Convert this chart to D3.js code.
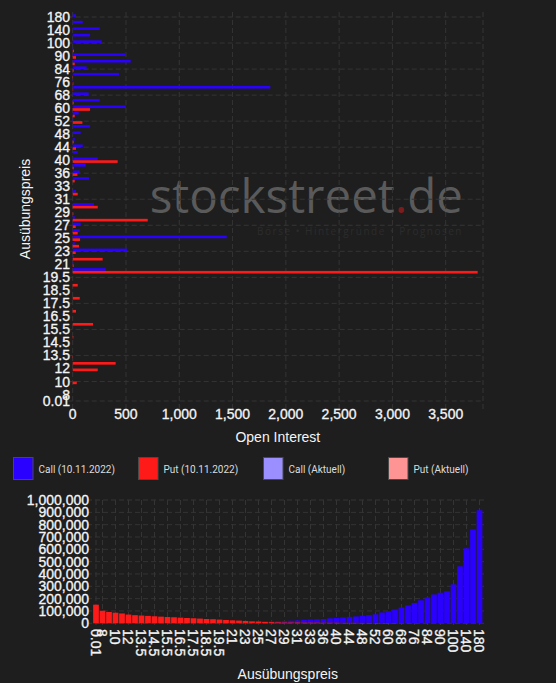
<!DOCTYPE html>
<html>
<head>
<meta charset="utf-8">
<script src="https://cdn.jsdelivr.net/npm/d3@7"></script>
<style>
  html, body { margin: 0; padding: 0; background: #1e1e1e; }
  svg { display: block; }
</style>
</head>
<body>
<script>
// Ausübungspreise, von unten (0.01) nach oben (180)
const strikes = ["0.01","8","9","10","11","12","13","13.5","14","14.5","15","15.5","16","16.5","17","17.5",
  "18","18.5","19","19.5","20","21","22","23","24","25","26","27","28","29","30","31","32","33","34","36",
  "38","40","42","44","46","48","50","52","56","60","64","68","72","76","80","84","88","90","95","100",
  "120","140","160","180"];

// Open Interest je Strike (10.11.2022)
const callOI = [0,0,0,0,0,0,0,0,0,0,0,0,0,0,0,0,
  0,0,0,0,310,9,12,510,19,1445,66,75,19,0,200,0,31,0,153,66,
  122,235,47,94,19,75,163,5,56,500,253,150,1854,3,435,131,544,491,5,272,
  163,253,94,31];
const putOI = [0,0,0,38,0,235,403,3,0,0,6,0,191,0,31,0,
  66,0,47,0,3800,9,281,28,59,69,47,28,704,6,235,0,47,0,19,44,
  9,422,0,31,9,0,0,91,19,163,9,0,4,6,3,9,19,31,12,0,
  0,0,0,0];

// Max-Pain-Werte je Strike (untere Grafik)
const painPut = [151000,102000,92000,86000,80000,71000,66000,63000,60000,57000,54000,51000,49000,46000,43000,41000,
  38000,35000,33000,30000,27000,24000,22000,19000,16000,15000,12000,10000,9000,8000,8000,8000,7000,7000,7000,6000,
  6000,6000,5000,5000,5000,4000,4000,3000,3000,2000,2000,1000,1000,500,0,0,0,0,0,0,
  0,0,0,0];
const painCall = [0,0,0,0,0,0,0,0,0,0,0,0,0,0,0,0,
  0,0,0,0,0,0,0,0,0,1000,3000,5000,7000,10000,13000,16000,20000,23000,25000,29000,
  34000,37000,42000,47000,51000,57000,62000,70000,85000,95000,109000,127000,144000,165000,187000,210000,234000,248000,260000,316000,
  462000,608000,761000,917000];

const oiTicks = [0,500,1000,1500,2000,2500,3000,3500];
const painTicks = [0,100000,200000,300000,400000,500000,600000,700000,800000,900000,1000000];

const legendItems = [
  {label: "Call (10.11.2022)", color: "#2a00ff"},
  {label: "Put (10.11.2022)", color: "#ff1a1a"},
  {label: "Call (Aktuell)", color: "#9b8fff"},
  {label: "Put (Aktuell)", color: "#ff9494"}
];

const width = 556, height = 683;
const BLUE = "#2a00ff", RED = "#ff1a1a";
const GRID = "#343434";
const TXT = "#f4f4f4";
const font = "'Liberation Sans', Arial, Helvetica, sans-serif";

// Beschriftete Strikes: erster Wert und jeder zweite
const shownLabel = (d, i) => i === 0 || i % 2 === 1;

const svg = d3.select("body").append("svg")
  .attr("width", width)
  .attr("height", height)
  .style("background", "#1e1e1e")
  .style("font-family", font);

// etwas kräftigere Schrift für Achsen
const tickText = sel => sel
  .attr("fill", TXT)
  .attr("stroke", TXT)
  .attr("stroke-width", 0.3)
  .style("font-size", "14px");

/* ---------- obere Grafik: Open Interest horizontal ---------- */
const rows = strikes.map((s, i) => ({strike: s, call: callOI[i], put: putOI[i]}));

const x = d3.scaleLinear().domain([0, 3850]).range([72.7, 483]);
const y0 = d3.scaleBand().domain(strikes).range([404.25, 13.75]);
const y1 = d3.scaleBand().domain(["call", "put"])
  .range([0, y0.bandwidth()]).paddingInner(0.05).paddingOuter(0.2);

const topG = svg.append("g");

// Wasserzeichen
const wm = topG.append("text")
  .attr("x", 463).attr("y", 213)
  .attr("text-anchor", "end")
  .style("font-family", "'Open Sans', sans-serif")
  .style("font-size", "47.5px")
  .attr("fill", "#5a5a5a");
wm.append("tspan").text("stockstreet");
wm.append("tspan").attr("fill", "#7c1c1c").text(".");
wm.append("tspan").text("de");

topG.append("text")
  .attr("x", 463).attr("y", 235)
  .attr("text-anchor", "end")
  .style("font-family", "'Open Sans', sans-serif")
  .style("font-size", "10px")
  .style("letter-spacing", "1.5px")
  .attr("fill", "#2c2c2c")
  .text("Börse • Hintergründe • Prognosen");

// Gitter
const gridTop = topG.append("g")
  .attr("stroke", GRID).attr("stroke-dasharray", "5,3").attr("stroke-width", 1);
gridTop.selectAll("line.v")
  .data(oiTicks.concat([x.domain()[1]]))
  .join("line")
  .attr("x1", d => x(d)).attr("x2", d => x(d))
  .attr("y1", 12).attr("y2", 409);
gridTop.selectAll("line.h")
  .data(strikes.filter((d, i) => i % 4 === 3 || i === 0))
  .join("line")
  .attr("x1", 67.7).attr("x2", 483)
  .attr("y1", d => y0(d) + y0.bandwidth() / 2)
  .attr("y2", d => y0(d) + y0.bandwidth() / 2);

// Balken
const groups = topG.append("g").selectAll("g")
  .data(rows)
  .join("g")
  .attr("transform", d => `translate(0,${y0(d.strike)})`);
groups.selectAll("rect")
  .data(d => [{key: "call", value: d.call}, {key: "put", value: d.put}])
  .join("rect")
  .attr("x", x(0))
  .attr("y", d => y1(d.key))
  .attr("height", y1.bandwidth())
  .attr("width", d => x(d.value) - x(0))
  .attr("fill", d => d.key === "call" ? BLUE : RED);

// Achsenbeschriftung
topG.append("g").selectAll("text")
  .data(strikes.filter(shownLabel))
  .join("text")
  .attr("x", 70)
  .attr("y", d => y0(d) + y0.bandwidth() / 2)
  .attr("dy", "0.36em")
  .attr("text-anchor", "end")
  .call(tickText)
  .text(d => d);

topG.append("g").selectAll("text")
  .data(oiTicks)
  .join("text")
  .attr("x", d => x(d))
  .attr("y", 419)
  .attr("text-anchor", "middle")
  .call(tickText)
  .text(d3.format(","));

topG.append("text")
  .attr("transform", `translate(30,${(y0.range()[0] + y0.range()[1]) / 2}) rotate(-90)`)
  .attr("text-anchor", "middle")
  .attr("fill", TXT)
  .style("font-size", "14px")
  .text("Ausübungspreis");

topG.append("text")
  .attr("x", (x.range()[0] + x.range()[1]) / 2)
  .attr("y", 442)
  .attr("text-anchor", "middle")
  .attr("fill", TXT)
  .style("font-size", "14px")
  .text("Open Interest");

/* ---------- Legende ---------- */
const legend = svg.append("g").selectAll("g")
  .data(legendItems)
  .join("g")
  .attr("transform", (d, i) => `translate(${13.5 + i * 125},457.5)`);
legend.append("rect")
  .attr("width", 19.5).attr("height", 22)
  .attr("fill", d => d.color)
  .attr("stroke", "#4a4a4a").attr("stroke-width", 1);
legend.append("text")
  .attr("x", 25).attr("y", 15)
  .attr("fill", "#dcdcdc")
  .style("font-family", "Roboto, sans-serif")
  .style("font-size", "10px")
  .text(d => d.label);

/* ---------- untere Grafik: Max Pain ---------- */
const painRows = strikes.map((s, i) => ({strike: s, put: painPut[i], call: painCall[i]}));
const series = d3.stack().keys(["put", "call"])(painRows);

const xb = d3.scaleBand().domain(strikes).range([92.75, 482.75])
  .paddingInner(0.12).paddingOuter(0.06);
const yb = d3.scaleLinear().domain([0, 1000000]).range([623.3, 500]);

const bottomG = svg.append("g");

const gridBot = bottomG.append("g")
  .attr("stroke", GRID).attr("stroke-dasharray", "5,3").attr("stroke-width", 1);
gridBot.selectAll("line.h")
  .data(painTicks)
  .join("line")
  .attr("x1", 87).attr("x2", 484)
  .attr("y1", d => yb(d)).attr("y2", d => yb(d));
gridBot.selectAll("line.v")
  .data(strikes.filter(shownLabel))
  .join("line")
  .attr("x1", d => xb(d) + xb.bandwidth() / 2)
  .attr("x2", d => xb(d) + xb.bandwidth() / 2)
  .attr("y1", 500).attr("y2", 628);

bottomG.append("g").selectAll("g")
  .data(series)
  .join("g")
  .attr("fill", d => d.key === "call" ? BLUE : RED)
  .selectAll("rect")
  .data(d => d)
  .join("rect")
  .attr("x", d => xb(d.data.strike))
  .attr("width", xb.bandwidth())
  .attr("y", d => yb(d[1]))
  .attr("height", d => yb(d[0]) - yb(d[1]));

bottomG.append("g").selectAll("text")
  .data(painTicks)
  .join("text")
  .attr("x", 89)
  .attr("y", d => yb(d))
  .attr("dy", "0.36em")
  .attr("text-anchor", "end")
  .call(tickText)
  .text(d3.format(","));

bottomG.append("g").selectAll("text")
  .data(strikes.filter(shownLabel))
  .join("text")
  .attr("transform", d => `translate(${xb(d) + xb.bandwidth() / 2},629) rotate(90)`)
  .attr("dy", "0.36em")
  .attr("text-anchor", "start")
  .call(tickText)
  .text(d => d);

bottomG.append("text")
  .attr("x", (xb.range()[0] + xb.range()[1]) / 2)
  .attr("y", 679)
  .attr("text-anchor", "middle")
  .attr("fill", TXT)
  .style("font-size", "14px")
  .text("Ausübungspreis");
</script>
</body>
</html>
